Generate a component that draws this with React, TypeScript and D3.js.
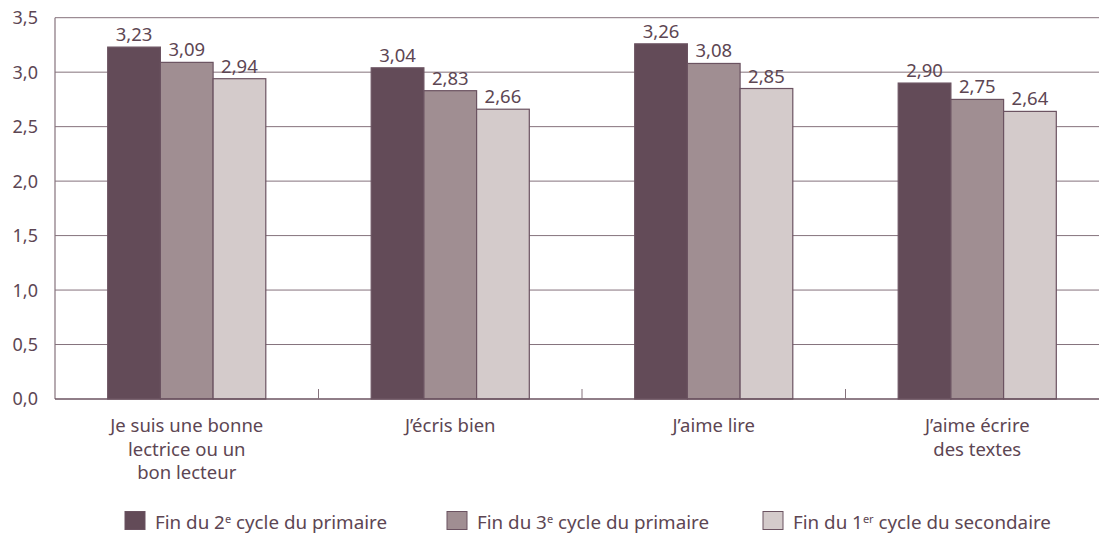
import React from "react";
import * as d3 from "d3";

const categories: string[][] = [
  ["Je suis une bonne", "lectrice ou un", "bon lecteur"],
  ["J’écris bien"],
  ["J’aime lire"],
  ["J’aime écrire", "des textes"],
];
const seriesKeys = ["s1", "s2", "s3"];
const seriesPre = ["Fin du 2", "Fin du 3", "Fin du 1"];
const seriesSup = ["e", "e", "er"];
const seriesPost = [" cycle du primaire", " cycle du primaire", " cycle du secondaire"];
const s1Values = [3.23, 3.04, 3.26, 2.9];
const s2Values = [3.09, 2.83, 3.08, 2.75];
const s3Values = [2.94, 2.66, 2.85, 2.64];
const yTicks = [0, 0.5, 1, 1.5, 2, 2.5, 3, 3.5];

const colors = ["#634b58", "#a08e92", "#d4cbcb"];
const textColor = "#5d4653";
const gridColor = "#85727c";
const font = "'Noto Sans', sans-serif";

const fmt = (v: number, d: number) => v.toFixed(d).replace(".", ",");

export default function App() {
  const W = 1099, H = 535;
  const left = 55, right = 1109, top = 17.7, bottom = 399;
  const catIdx = categories.map((_, i) => String(i));
  const x0 = d3.scaleBand<string>().domain(catIdx).range([left, right]).padding(0);
  const bw = x0.bandwidth();
  const x1 = d3.scaleBand<string>().domain(seriesKeys).range([0.2 * bw, 0.8 * bw]).padding(0);
  const y = d3.scaleLinear().domain([0, 3.5]).range([bottom, top]);
  const values = [s1Values, s2Values, s3Values];

  const legendX = [125, 447, 763];

  return (
    <div>
      <style>{"body{margin:0}"}</style>
      <svg width={W} height={H} style={{ display: "block", fontFamily: font }}>
        <rect width={W} height={H} fill="#fff" />
        {yTicks.map((t) => (
          <g key={t}>
            {t > 0 && (
              <line x1={left} x2={W} y1={y(t)} y2={y(t)} stroke={gridColor} strokeWidth={1} />
            )}
            <text x={38} y={y(t)} dy="0.36em" textAnchor="end" fontSize={18} fill={textColor}>
              {fmt(t, 1)}
            </text>
          </g>
        ))}
        {categories.map((_, ci) =>
          seriesKeys.map((k, si) => {
            const v = values[si][ci];
            const bx = (x0(String(ci)) as number) + (x1(k) as number);
            return (
              <g key={ci + k}>
                <rect
                  x={bx}
                  y={y(v)}
                  width={x1.bandwidth()}
                  height={bottom - y(v)}
                  fill={colors[si]}
                  stroke="#6b5361"
                  strokeWidth={1.2}
                />
                <text
                  x={bx + x1.bandwidth() / 2}
                  y={y(v) - 6}
                  textAnchor="middle"
                  fontSize={18.5}
                  fill={textColor}
                >
                  {fmt(v, 2)}
                </text>
              </g>
            );
          })
        )}
        <line x1={left} x2={left} y1={top} y2={bottom} stroke={gridColor} strokeWidth={1.2} />
        <line x1={left} x2={W} y1={bottom} y2={bottom} stroke="#6b5361" strokeWidth={1.5} />
        {catIdx.slice(1).map((c) => (
          <line key={c} x1={x0(c)} x2={x0(c)} y1={bottom} y2={bottom - 10} stroke={gridColor} strokeWidth={1} />
        ))}
        {categories.map((lines, ci) => (
          <text
            key={ci}
            x={(x0(String(ci)) as number) + bw / 2}
            textAnchor="middle"
            fontSize={18.5}
            fill={textColor}
          >
            {lines.map((l, li) => (
              <tspan key={li} x={(x0(String(ci)) as number) + bw / 2} y={432 + li * 23.5}>
                {l}
              </tspan>
            ))}
          </text>
        ))}
        {seriesKeys.map((k, si) => (
          <g key={k}>
            <rect x={legendX[si]} y={511.5} width={20} height={18} fill={colors[si]} stroke="#6b5361" strokeWidth={1} />
            <text x={legendX[si] + 30} y={529} fontSize={18.8} fill={textColor}>
              {seriesPre[si]}
              <tspan fontSize={11} dy={-6}>{seriesSup[si]}</tspan>
              <tspan dy={6}>{seriesPost[si]}</tspan>
            </text>
          </g>
        ))}
      </svg>
    </div>
  );
}
